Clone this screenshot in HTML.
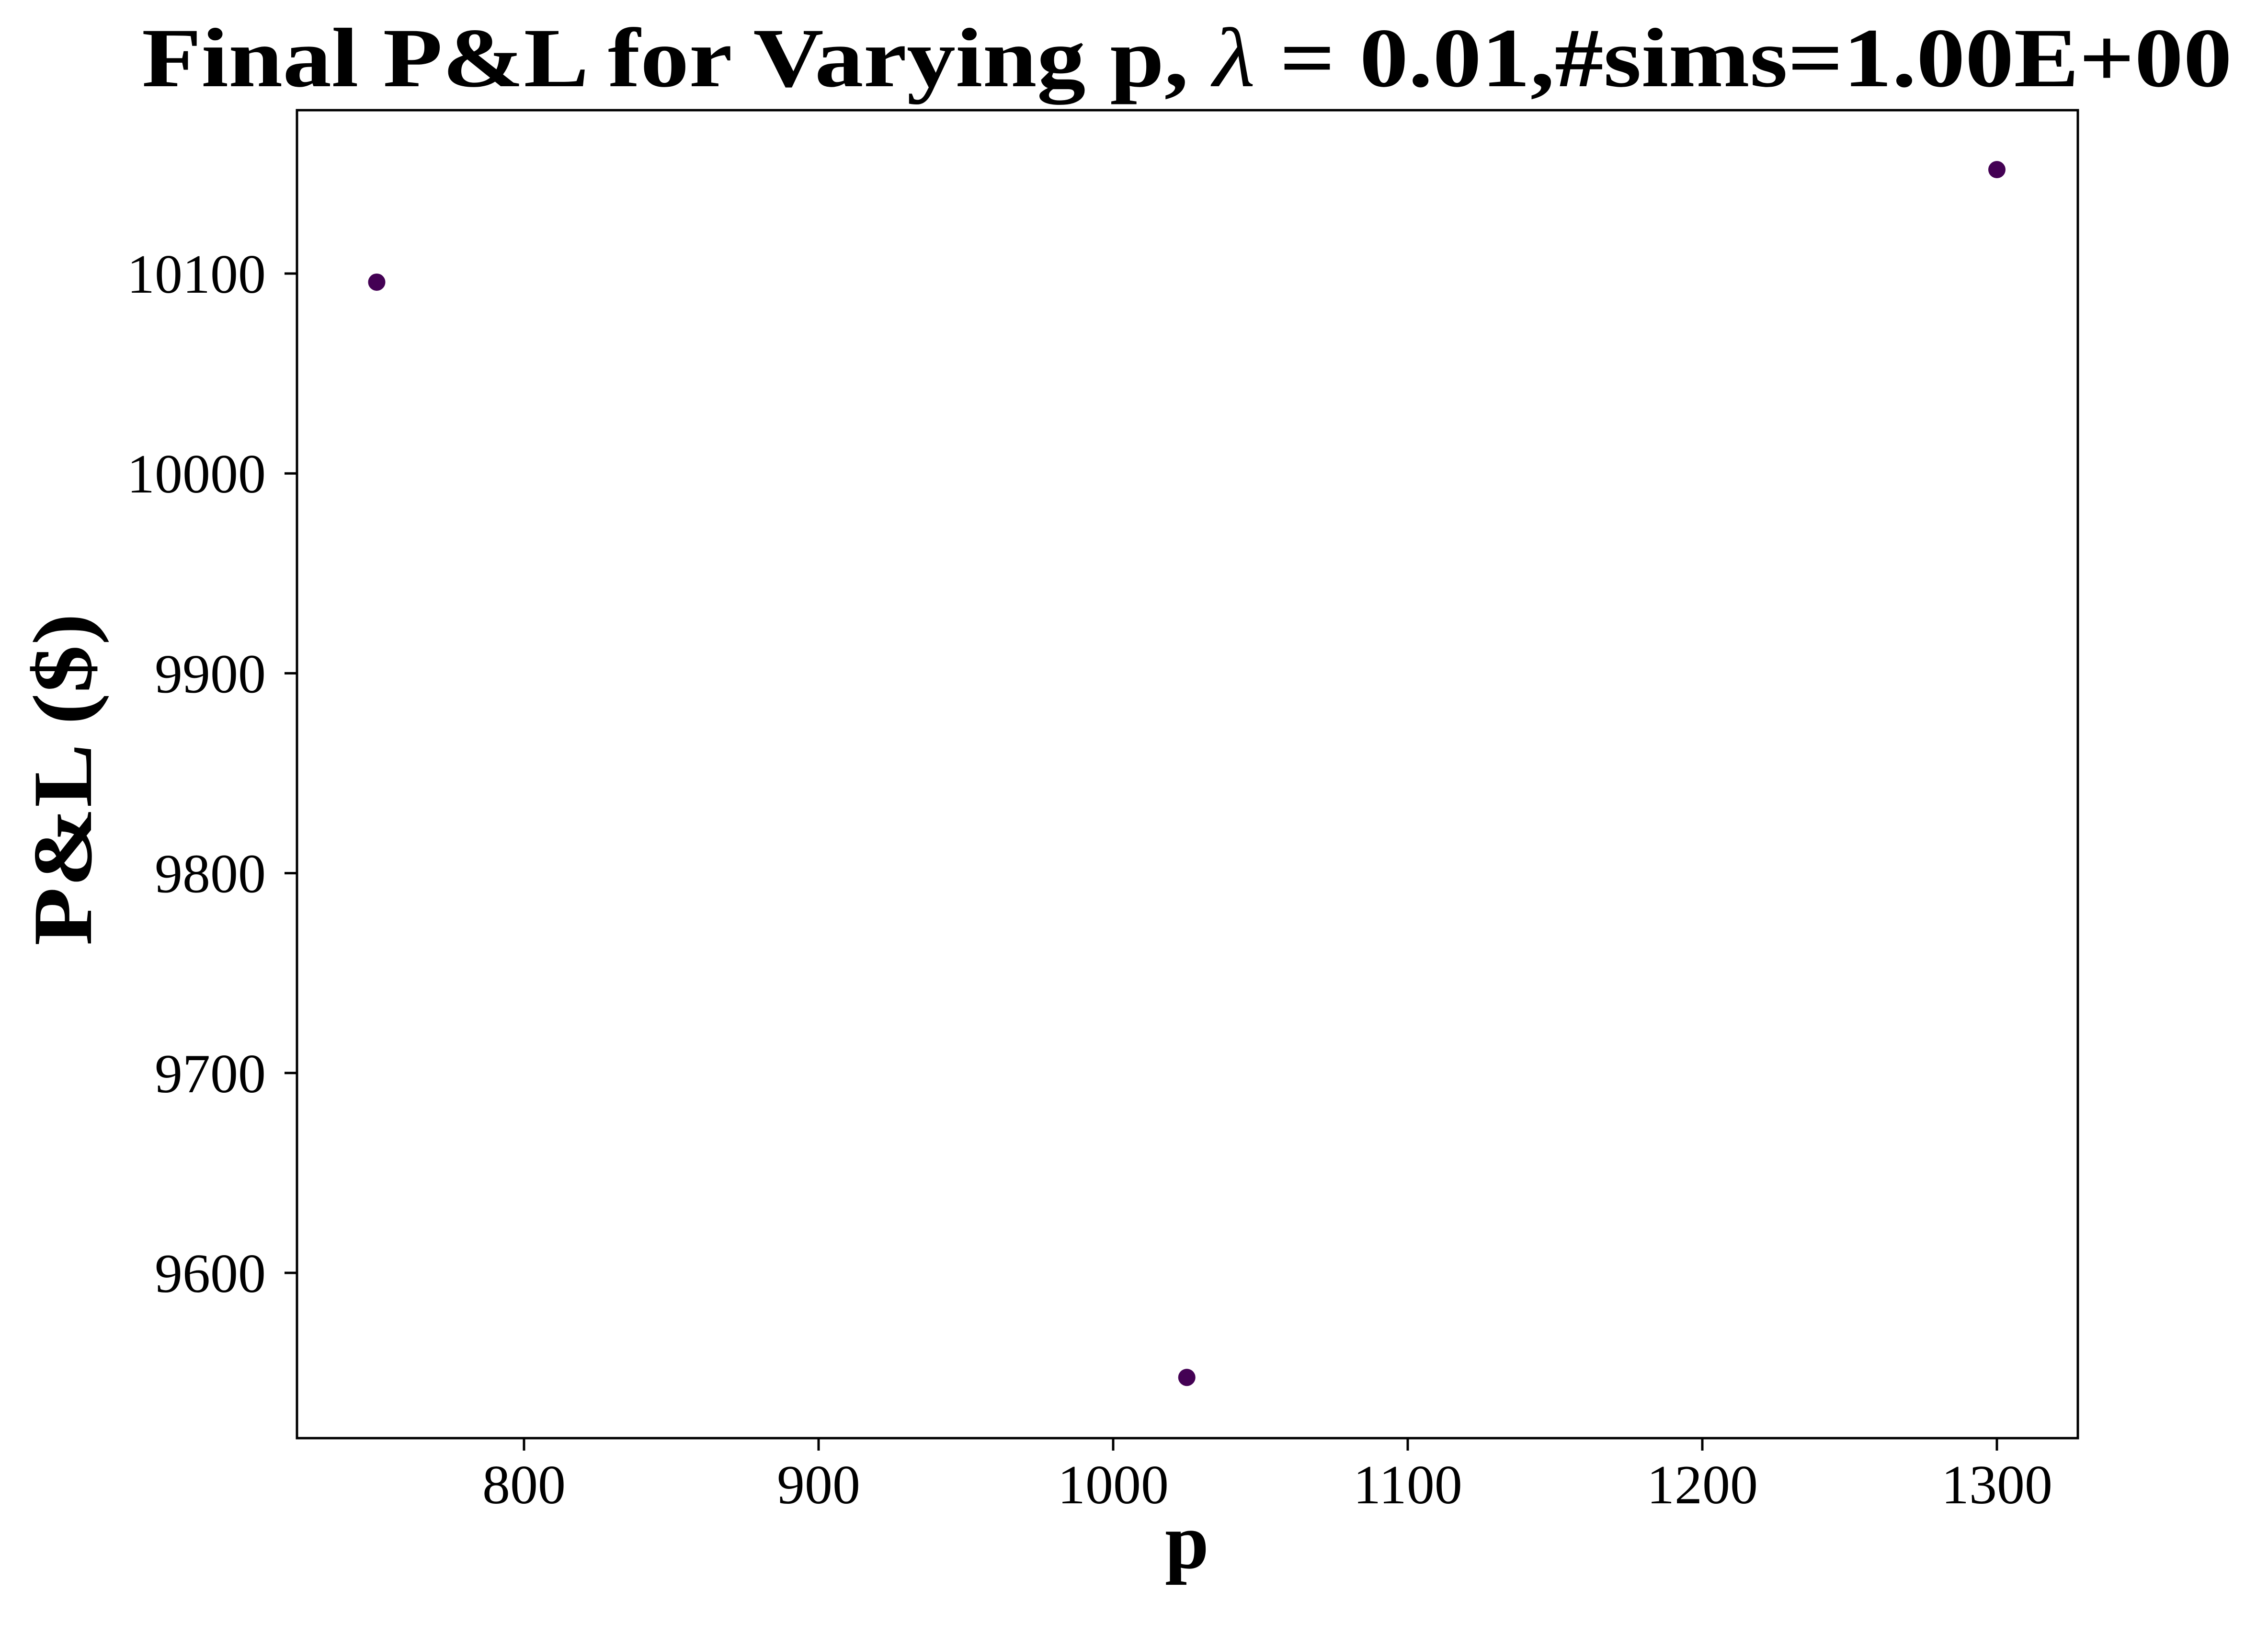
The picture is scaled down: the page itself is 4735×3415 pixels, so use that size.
<!DOCTYPE html>
<html><head><meta charset="utf-8"><style>html,body{margin:0;padding:0;background:#fff}svg{display:block}</style></head>
<body>
<svg id="chart" width="4735" height="3415" viewBox="0 0 4735 3415" xmlns="http://www.w3.org/2000/svg" font-family="'Liberation Serif', serif">
<rect width="4735" height="3415" fill="#fff"/>
<text x="296" y="180" font-size="176" font-weight="bold" textLength="4364" lengthAdjust="spacingAndGlyphs">Final P&amp;L for Varying p, <tspan font-style="italic" font-weight="normal">λ</tspan> = 0.01,#sims=1.00E+00</text>
<g id="xticks"></g>
<g id="yticks"></g>
<g id="points"></g>
<rect x="620" y="230" width="3718" height="2772" fill="none" stroke="#000" stroke-width="5"/>
<text x="2478" y="3273" font-size="165" font-weight="bold" text-anchor="middle">p</text>
<text transform="translate(190,1627) rotate(-90)" font-size="176" font-weight="bold" text-anchor="middle" textLength="694" lengthAdjust="spacingAndGlyphs">P&amp;L ($)</text>
</svg>
<script>
const xTicks = [800, 900, 1000, 1100, 1200, 1300];
const yTicks = [9600, 9700, 9800, 9900, 10000, 10100];
const pValues = [750, 1025, 1300];
const pnlValues = [10095.7, 9547.7, 10152];

const NS = 'http://www.w3.org/2000/svg';
const L = 620, R = 4338, T = 230, B = 3002;
function xs(v){ return 1094 + (v - 800) * (4169 - 1094) / 500; }
function ys(v){ return 2657 - (v - 9600) * (2657 - 571) / 500; }
function mk(tag, attrs, parent){ const e = document.createElementNS(NS, tag); for (const k in attrs) e.setAttribute(k, attrs[k]); parent.appendChild(e); return e; }

const gx = document.getElementById('xticks');
xTicks.forEach(v => {
  const x = xs(v);
  const t = mk('line', {x1:x, x2:x, y1:B, y2:B+26, stroke:'#000', 'stroke-width':5}, gx);
  
  
  const lb = mk('text', {x:x, y:3138, 'font-size':116, 'text-anchor':'middle'}, gx);
  
  
  lb.textContent = v;
});
const gy = document.getElementById('yticks');
yTicks.forEach(v => {
  const y = ys(v);
  const t = mk('line', {x1:L-26, x2:L, y1:y, y2:y, stroke:'#000', 'stroke-width':5}, gy);
  
  
  const lb = mk('text', {x:555, y:y+40, 'font-size':116, 'text-anchor':'end'}, gy);
  
  
  lb.textContent = v;
});
const gp = document.getElementById('points');
pValues.forEach((p, i) => {
  const c = mk('circle', {cx:xs(p), cy:ys(pnlValues[i]), r:18, fill:'#440154'}, gp);
  
  
});
</script>
</body></html>
